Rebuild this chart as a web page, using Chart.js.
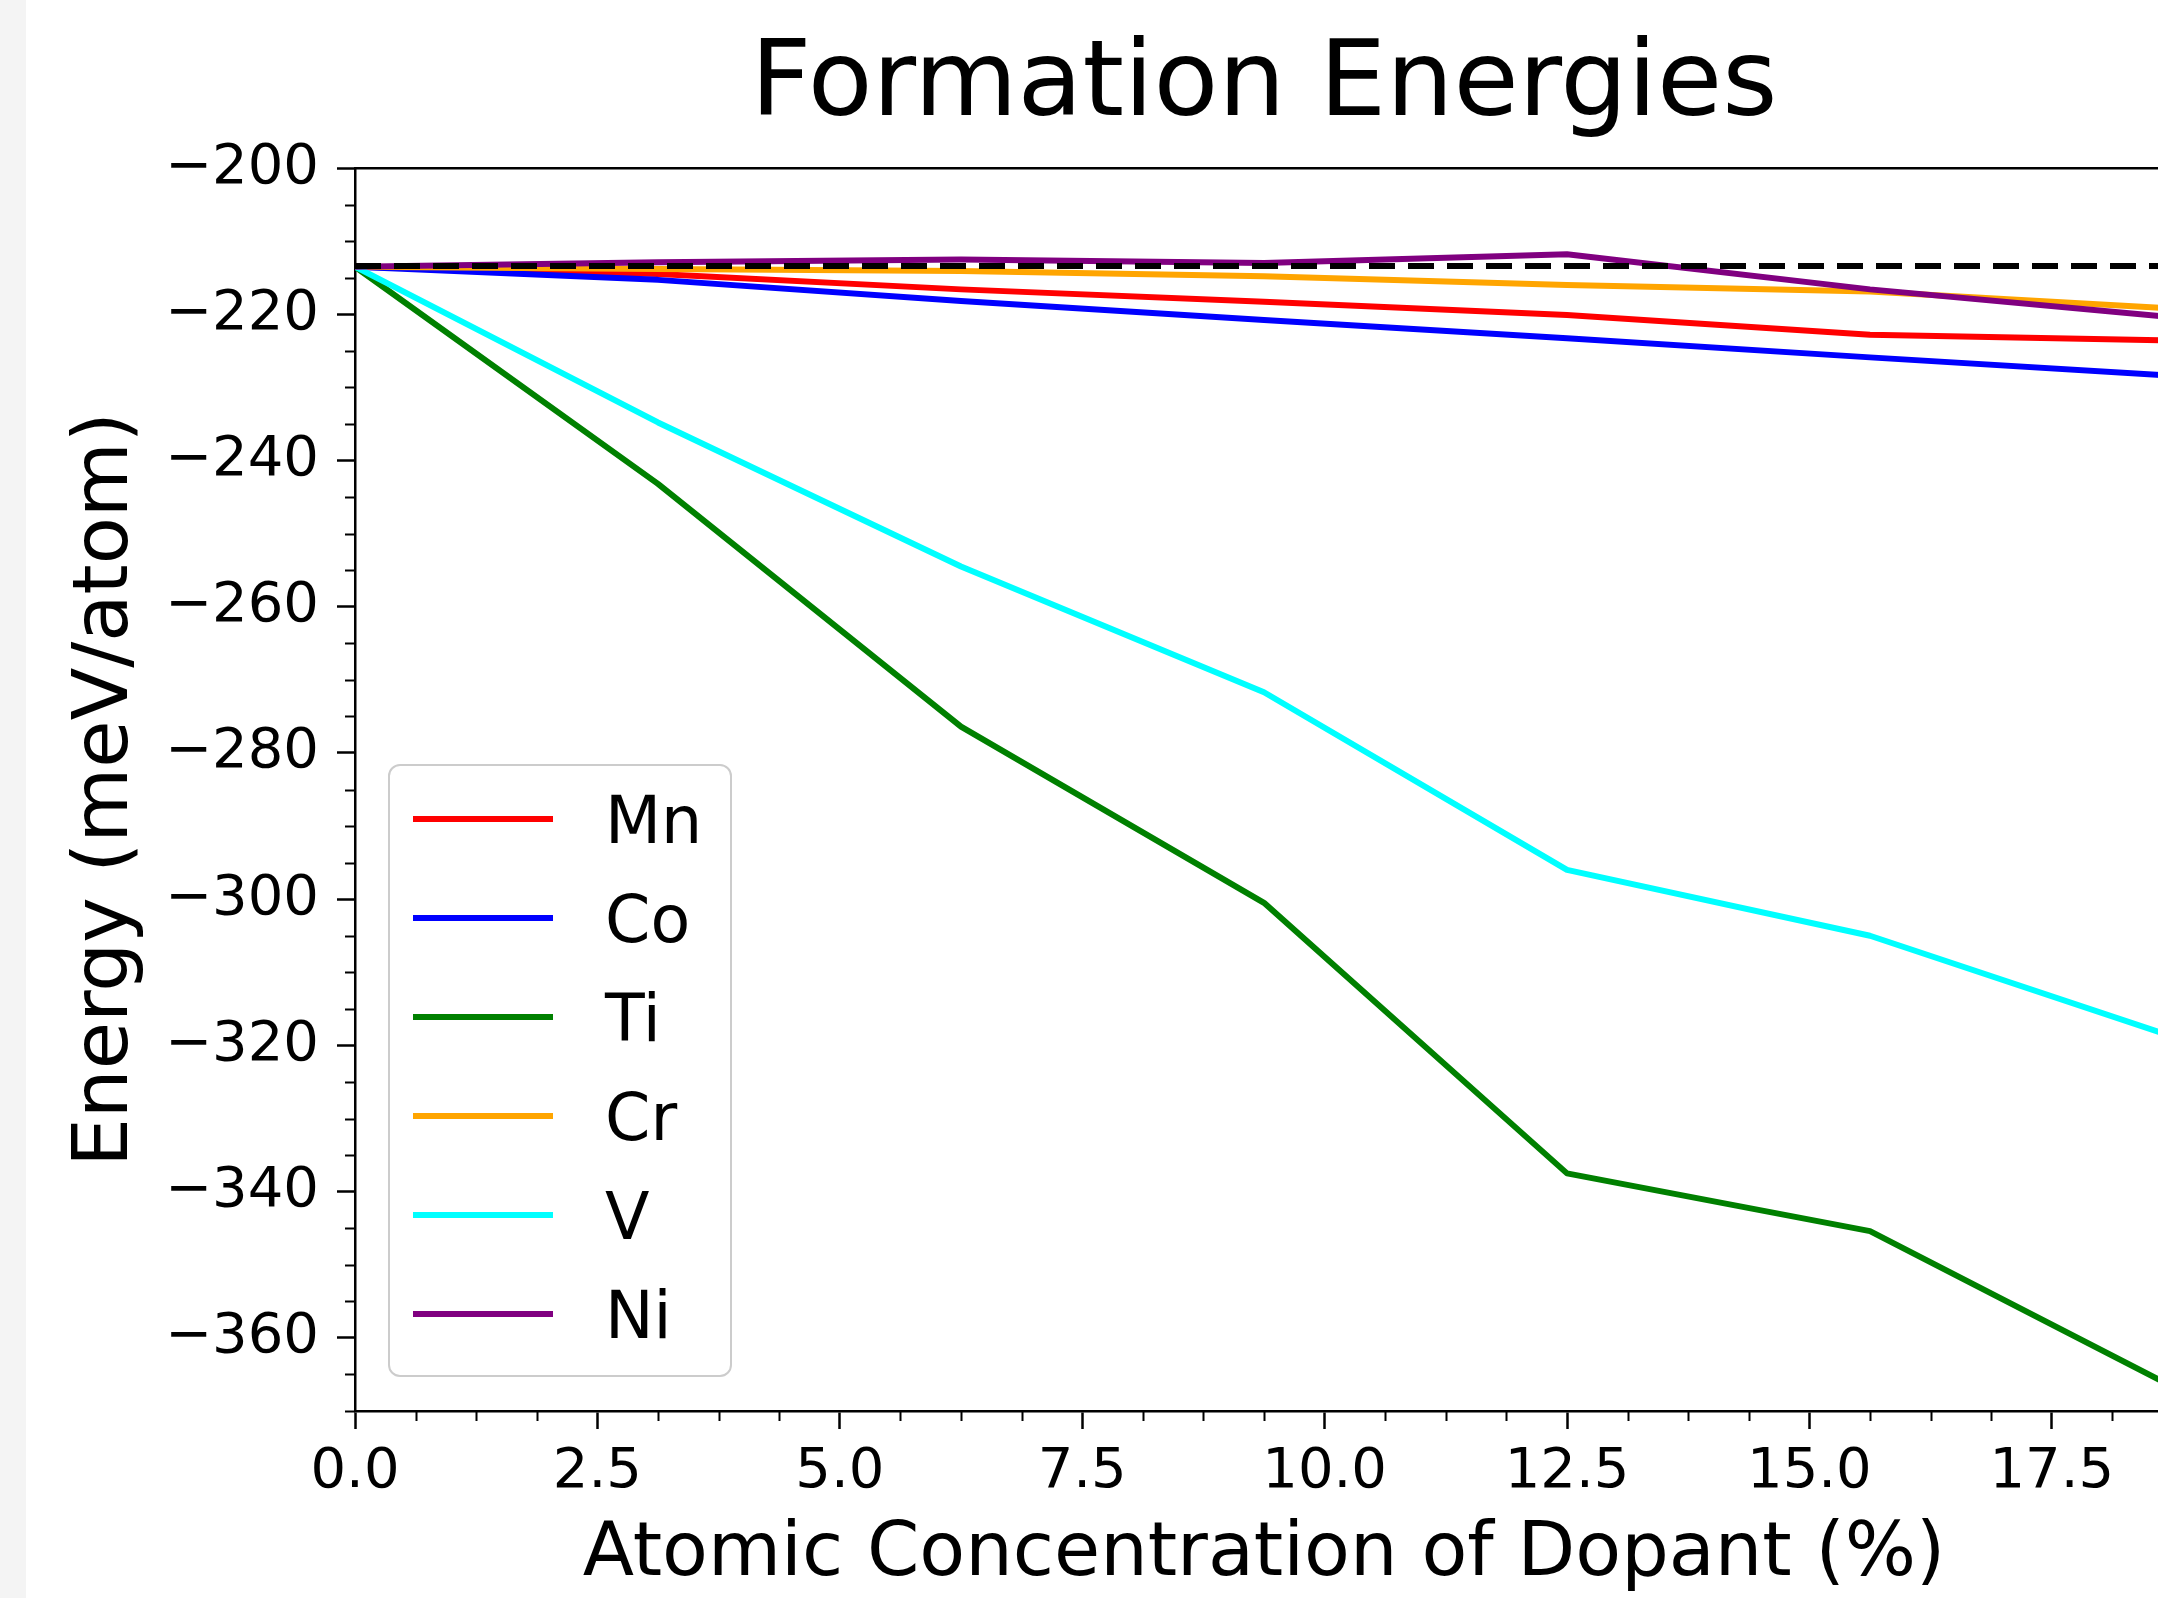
<!DOCTYPE html>
<html>
<head>
<meta charset="utf-8">
<title>Formation Energies</title>
<script src="https://cdn.jsdelivr.net/npm/chart.js@4.4.1/dist/chart.umd.min.js"></script>
<style>
  html, body { margin: 0; padding: 0; overflow: hidden; }
  body { width: 2158px; height: 1598px; background: linear-gradient(to right, #f4f4f4 0, #f4f4f4 26px, #fff 26px); }
  #wrap { position: absolute; left: 0; top: 0; width: 2200px; height: 1598px; }
</style>
</head>
<body>
<div id="wrap"><canvas id="chart"></canvas></div>
<script>
// ── Data (meV/atom vs. dopant %) ──────────────────────
const CONC = [0, 3.125, 6.25, 9.375, 12.5, 15.625, 18.75];
const MN   = [-213.5, -214.5, -216.6, -218.3, -220.1, -222.8, -223.6];
const CO   = [-213.5, -215.3, -218.2, -220.8, -223.3, -225.9, -228.4];
const TI   = [-213.5, -243.2, -276.4, -300.5, -337.5, -345.4, -366.7];
const CR   = [-213.5, -213.8, -214.1, -214.8, -216.0, -216.9, -219.2];
const V    = [-213.5, -234.8, -254.5, -271.7, -296.0, -305.0, -318.8];
const NI   = [-213.5, -212.9, -212.5, -213.0, -211.8, -216.6, -220.4];
const REF  = [-213.4, -213.4, -213.4, -213.4, -213.4, -213.4, -213.4];

const X_TICKS = [0, 2.5, 5, 7.5, 10, 12.5, 15, 17.5];
const Y_TICKS = [-360, -340, -320, -300, -280, -260, -240, -220, -200];
const X_MIN = 0, X_MAX = 18.75, X_MINOR = 0.625;
const Y_MIN = -370, Y_MAX = -200, Y_MINOR = 5;

const FONT = '"DejaVu Sans", sans-serif';
const LW = 6;

const pts = ys => CONC.map((x, i) => ({ x, y: ys[i] }));
const series = (label, ys, color, order) => ({
  label, data: pts(ys), borderColor: color, backgroundColor: color,
  borderWidth: LW, pointRadius: 0, tension: 0, borderJoinStyle: 'round', order
});

// ── Minor ticks (matplotlib style) ────────────────────
const minorTicks = {
  id: 'minorTicks',
  afterDraw(chart) {
    const { ctx, chartArea, scales: { x, y } } = chart;
    ctx.save();
    ctx.strokeStyle = '#000';
    ctx.lineWidth = 2;
    ctx.beginPath();
    for (let v = X_MIN; v <= X_MAX + 1e-9; v += X_MINOR) {
      if (X_TICKS.some(t => Math.abs(t - v) < 1e-9)) continue;
      const px = Math.round(x.getPixelForValue(v)) + 0.5;
      ctx.moveTo(px, chartArea.bottom);
      ctx.lineTo(px, chartArea.bottom + 10);
    }
    for (let v = Y_MIN; v <= Y_MAX + 1e-9; v += Y_MINOR) {
      if (Y_TICKS.some(t => Math.abs(t - v) < 1e-9)) continue;
      const py = Math.round(y.getPixelForValue(v)) + 0.5;
      ctx.moveTo(chartArea.left, py);
      ctx.lineTo(chartArea.left - 10, py);
    }
    ctx.stroke();
    ctx.restore();
  }
};

// ── Boxed legend in lower left ────────────────────────
const boxLegend = {
  id: 'boxLegend',
  afterDraw(chart) {
    const { ctx, chartArea } = chart;
    const items = chart.data.datasets.filter(d => d.label);
    const x0 = chartArea.left + 34, y0 = chartArea.bottom - 35 - 611;
    ctx.save();
    ctx.beginPath();
    ctx.roundRect(x0, y0, 342, 611, 11);
    ctx.fillStyle = 'rgba(255,255,255,0.8)';
    ctx.fill();
    ctx.strokeStyle = '#cccccc';
    ctx.lineWidth = 2;
    ctx.stroke();
    ctx.font = '65px ' + FONT;
    ctx.textBaseline = 'alphabetic';
    items.forEach((d, i) => {
      const cy = y0 + 54 + i * 99;
      ctx.strokeStyle = d.borderColor;
      ctx.lineWidth = d.borderWidth;
      ctx.beginPath();
      ctx.moveTo(x0 + 24, cy);
      ctx.lineTo(x0 + 164, cy);
      ctx.stroke();
      ctx.fillStyle = '#000';
      ctx.fillText(d.label, x0 + 216, cy + 23.7);
    });
    ctx.restore();
  }
};

const minus = v => (v < 0 ? '\u2212' : '') + Math.abs(v);

new Chart(document.getElementById('chart'), {
  type: 'line',
  data: {
    datasets: [
      series('Mn', MN, 'red', 6),
      series('Co', CO, 'blue', 5),
      series('Ti', TI, 'green', 4),
      series('Cr', CR, 'orange', 3),
      series('V', V, 'cyan', 2),
      series('Ni', NI, 'purple', 1),
      { label: '', data: pts(REF), borderColor: '#000', borderWidth: LW,
        borderDash: [26, 13], pointRadius: 0, order: 0 }
    ]
  },
  options: {
    responsive: true,
    maintainAspectRatio: false,
    animation: false,
    layout: { padding: { left: 0, right: 27, top: 0, bottom: 0 } },
    plugins: { legend: { display: false }, tooltip: { enabled: false } },
    scales: {
      x: {
        type: 'linear', position: 'bottom', min: X_MIN, max: X_MAX,
        afterBuildTicks: s => { s.ticks = X_TICKS.map(value => ({ value })); },
        afterFit: s => { s.height = 187; },
        ticks: { autoSkip: false, maxRotation: 0, padding: 10, color: '#000',
                 font: { family: FONT, size: 56 }, callback: v => v.toFixed(1) },
        grid: { drawOnChartArea: false, tickLength: 18, tickColor: '#000', tickWidth: 2.5 },
        border: { color: '#000', width: 2.5 },
        title: { display: true, text: 'Atomic Concentration of Dopant (%)', color: '#000',
                 font: { family: FONT, size: 75, lineHeight: 1 }, padding: { top: 0, bottom: 5 } }
      },
      x2: {
        type: 'linear', position: 'top', min: X_MIN, max: X_MAX,
        afterFit: s => { s.height = 168; },
        ticks: { display: false },
        grid: { display: false, drawTicks: false },
        border: { color: '#000', width: 2.5 },
        title: { display: true, text: 'Formation Energies', color: '#000',
                 font: { family: FONT, size: 106, lineHeight: 1 }, padding: { top: 34, bottom: 0 } }
      },
      y: {
        type: 'linear', position: 'left', min: Y_MIN, max: Y_MAX,
        afterBuildTicks: s => { s.ticks = Y_TICKS.map(value => ({ value })); },
        afterFit: s => { s.width = 355; },
        ticks: { autoSkip: false, padding: 18, color: '#000',
                 font: { family: FONT, size: 56 }, callback: minus },
        grid: { drawOnChartArea: false, tickLength: 18, tickColor: '#000', tickWidth: 2.5 },
        border: { color: '#000', width: 2.5 },
        title: { display: true, text: 'Energy (meV/atom)', color: '#000',
                 font: { family: FONT, size: 77, lineHeight: 1 }, padding: { top: 68, bottom: 0 } }
      }
    }
  },
  plugins: [minorTicks, boxLegend]
});
</script>
</body>
</html>
